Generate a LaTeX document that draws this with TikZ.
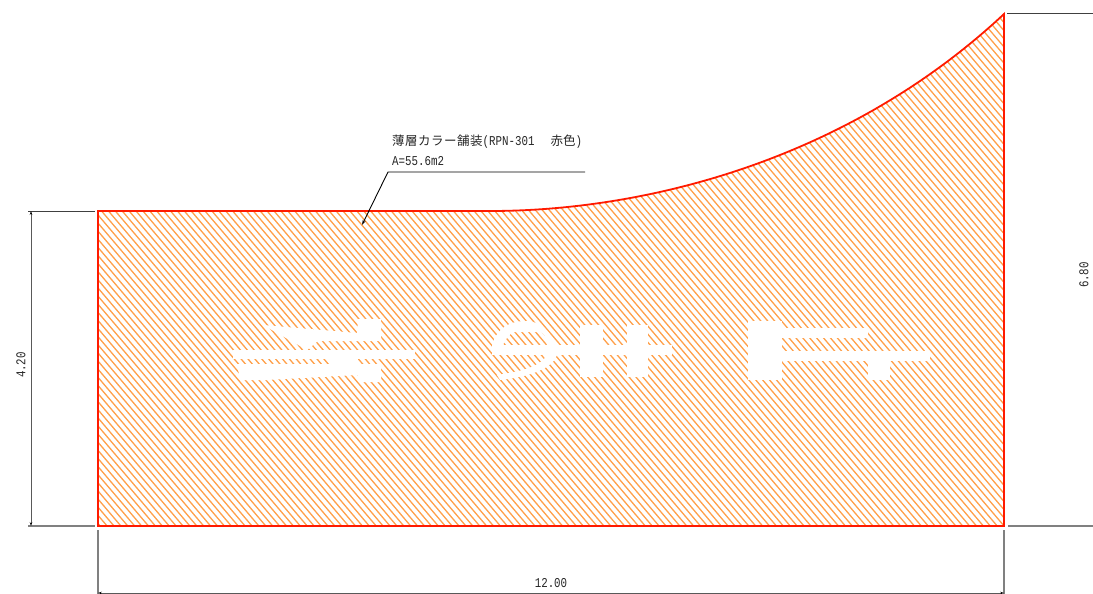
\documentclass[tikz,border=0pt]{standalone}
\usepackage{fontspec}
\usetikzlibrary{arrows.meta}
\newfontfamily\cjkf{Noto Sans CJK JP}
\newfontfamily\latf[FakeStretch=0.8]{Liberation Mono}
\definecolor{hatchc}{HTML}{FFA04A}
\definecolor{outl}{HTML}{FF1A00}
\definecolor{dimg}{HTML}{808080}
\tikzset{
  hatch/.style={hatchc,line width=1.3pt},
  pad/.style={fill=white,draw=none},
  outline/.style={outl,line width=1.8pt,line join=miter},
  extg/.style={dimg,line width=1.3pt},
  extk/.style={black!75,line width=1pt},
  dimline/.style={black!65,line width=1pt,{Stealth[length=4pt,width=2.6pt,black]}-{Stealth[length=4pt,width=2.6pt,black]}},
  leader/.style={black,line width=0.9pt},
  lbl/.style={inner sep=0pt,font=\latf\fontsize{13.5}{13.5}\selectfont,black!85},
}
\newcommand{\areashape}{(98,211) -- (490,211) .. controls (650,211) and (850,158) .. (1004,14) -- (1004,526) -- (98,526) -- cycle}
\begin{document}
\begin{tikzpicture}[x=1pt,y=-1pt]
\useasboundingbox (0,0) rectangle (1093,594);
% hatching
\begin{scope}
  \clip \areashape;
  \foreach \k in {-90,...,220}{
    \draw[hatch] ({\k*6.9-340},0) -- ({\k*6.9-340+510},600);
  }
  % road marking, left glyph
  \fill[pad] (263,325) -- (357,333) -- (358,319) -- (381,319) -- (381,341) -- (318,341) -- (307,350) -- cycle;
  \fill[pad] (233,350) rectangle (415,359);
  \fill[pad] (330,358) rectangle (358,365);
  \fill[pad] (237,364) -- (381,364) -- (381,382) -- (358,382) -- (358,375) -- (267,380) -- (240,380) -- cycle;
  % middle glyph
  \fill[pad] (492,345) .. controls (497,328) and (510,321) .. (525,321) .. controls (540,321) and (550,330) .. (555,345)
     -- (547,345) .. controls (546,336) and (543,332) .. (540,332) -- (513,332) .. controls (508,336) and (505,340) .. (503,345) -- cycle;
  \fill[pad] (492,345) rectangle (672,355);
  \fill[pad] (497,375) .. controls (515,372) and (535,369) .. (545,358) -- (543,355) -- (557,355)
     .. controls (553,368) and (530,377) .. (500,380) -- cycle;
  \fill[pad] (580,325) rectangle (603,377);
  \fill[pad] (627,325) rectangle (648,377);
  % right glyph
  \fill[pad] (748,321) rectangle (782,380);
  \fill[pad] (782,328) rectangle (868,338);
  \fill[pad] (782,351) rectangle (930,361);
  \fill[pad] (868,361) rectangle (890,380);
\end{scope}
\draw[outline] \areashape;
% extension lines
\coordinate (tl1) at (28,211); \coordinate (tl2) at (95,211);
\coordinate (bl1) at (28,526); \coordinate (bl2) at (95,526);
\coordinate (lb1) at (98,530); \coordinate (lb2) at (98,594);
\coordinate (rb1) at (1004,530); \coordinate (rb2) at (1004,594);
\coordinate (tr1) at (1007,14); \coordinate (tr2) at (1093,14);
\coordinate (br1) at (1008,526); \coordinate (br2) at (1093,526);
\draw[extk] (tl1) -- (tl2);
\draw[extg] (bl1) -- (bl2);
\draw[extg] (lb1) -- (lb2);
\draw[extg] (rb1) -- (rb2);
\draw[extk] (tr1) -- (tr2);
\draw[extg] (br1) -- (br2);
% dimensions
\coordinate (dl1) at (31,211); \coordinate (dl2) at (31,526);
\coordinate (db1) at (98,593); \coordinate (db2) at (1004,593);
\draw[dimline] (dl1) -- (dl2);
\draw[dimline] (db1) -- (db2);
\node[lbl,rotate=90] (d420) at (21,365) {4.20};
\node[lbl,rotate=90] (d680) at (1084,275) {6.80};
\node[lbl] (d1200) at (551,583) {12.00};
% leader
\coordinate (ld0) at (585,172); \coordinate (ld1) at (388,172); \coordinate (ld2) at (362,225);
\draw[leader,-{Stealth[length=5pt,width=3pt]}] (ld0) -- (ld1) -- (ld2);
\node[lbl,anchor=west] (t1) at (392,142) {{\cjkf\fontsize{12.5}{12.5}\selectfont\addfontfeature{LetterSpace=4}薄層カラー舗装}(RPN-301\hspace{16pt}{\cjkf\fontsize{12.5}{12.5}\selectfont 赤色})};
\node[lbl,anchor=west] (t2) at (392,161) {A=55.6m2};
\end{tikzpicture}
\end{document}
